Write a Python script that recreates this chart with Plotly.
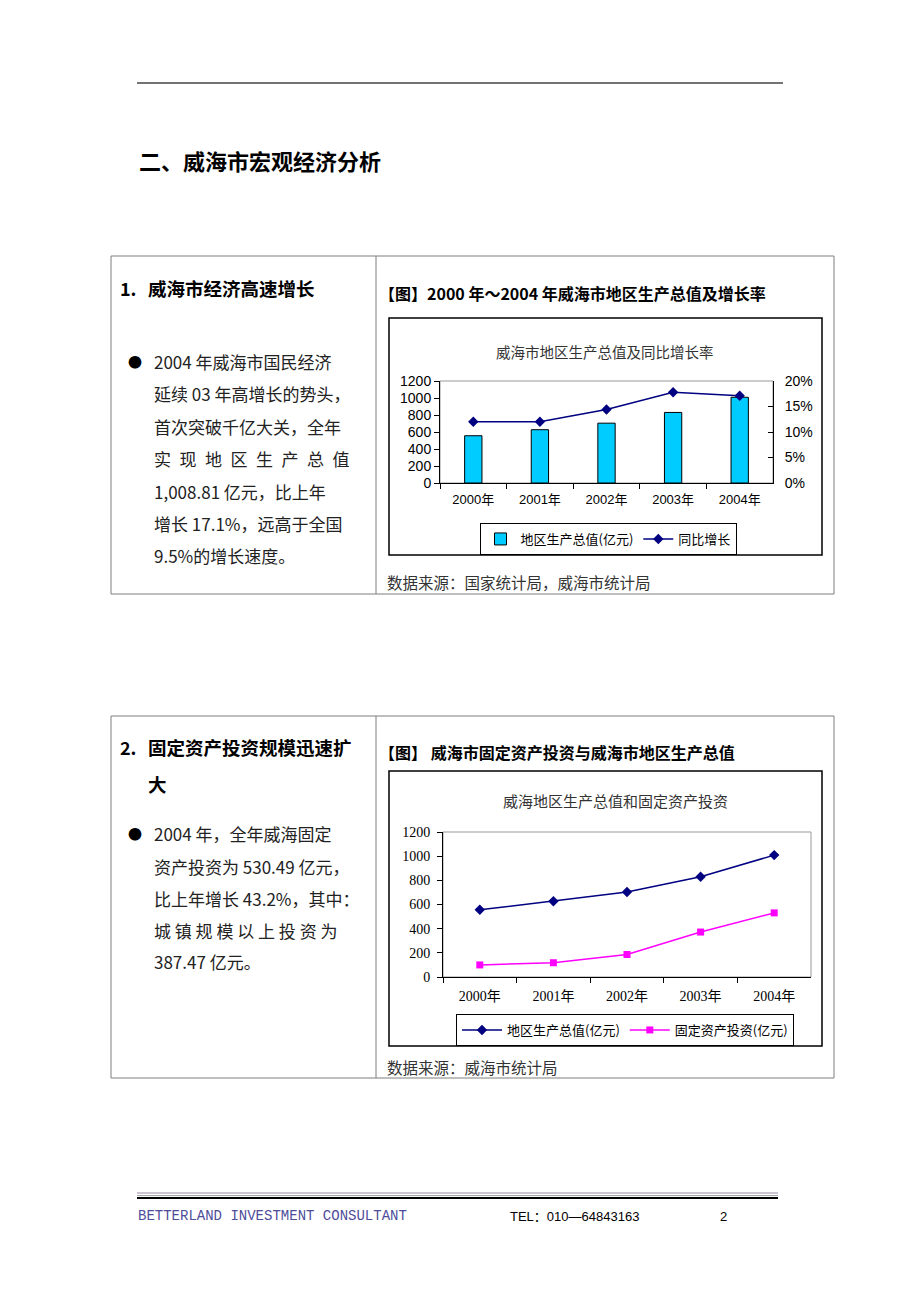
import plotly.graph_objects as go

W, H = 920, 1302

def X(px):
    return px / W

def Y(py):
    return 1 - py / H

# ---------------- data ----------------
years = ["2000年", "2001年", "2002年", "2003年", "2004年"]
gdp = [556, 627, 704, 830, 1008.81]             # 地区生产总值(亿元)
gdp_growth = [0.120, 0.120, 0.144, 0.178, 0.171]  # 同比增长
invest = [100, 118, 186, 372, 530.49]            # 固定资产投资(亿元)

left_ticks = [0, 200, 400, 600, 800, 1000, 1200]
right_ticks = [0, 0.05, 0.10, 0.15, 0.20]
right_tick_text = ["0%", "5%", "10%", "15%", "20%"]

CJK = "Noto Sans CJK SC"
SANS = "Liberation Sans, Arial, Noto Sans CJK SC"
SERIF = "Liberation Serif, Noto Sans CJK SC"

fig = go.Figure()

# Chart 1: bars + growth line
fig.add_trace(go.Bar(
    x=years, y=gdp, name="地区生产总值(亿元)",
    marker=dict(color="#00CCFF", line=dict(color="black", width=1)),
    width=0.26, xaxis="x", yaxis="y", legend="legend",
))
fig.add_trace(go.Scatter(
    x=years, y=gdp_growth, name="同比增长", mode="lines+markers",
    line=dict(color="#000080", width=1.5),
    marker=dict(symbol="diamond", size=8, color="#000080"),
    xaxis="x", yaxis="y2", legend="legend",
))

# Chart 2: two lines
fig.add_trace(go.Scatter(
    x=years, y=gdp, name="地区生产总值(亿元)", mode="lines+markers",
    line=dict(color="#000080", width=1.5),
    marker=dict(symbol="diamond", size=8, color="#000080"),
    xaxis="x2", yaxis="y3", legend="legend2",
))
fig.add_trace(go.Scatter(
    x=years, y=invest, name="固定资产投资(亿元)", mode="lines+markers",
    line=dict(color="#FF00FF", width=1.5),
    marker=dict(symbol="square", size=7, color="#FF00FF"),
    xaxis="x2", yaxis="y3", legend="legend2",
))

axis_common = dict(showgrid=False, zeroline=False, showline=True, linecolor="black",
                   linewidth=1, tickcolor="black", ticklen=5, automargin=False)

layout = dict(
    width=W, height=H,
    margin=dict(l=0, r=0, t=0, b=0),
    paper_bgcolor="white", plot_bgcolor="rgba(0,0,0,0)",
    showlegend=True,
    xaxis=dict(domain=[X(440), X(773)], anchor="y", type="category",
               range=[-0.5, 4.5], tickson="boundaries", ticks="outside",
               ticklabelstandoff=4,
               tickfont=dict(family=SANS, size=13, color="black"), **axis_common),
    yaxis=dict(domain=[Y(483), Y(381)], anchor="x", range=[0, 1200],
               tickvals=left_ticks, ticks="outside",
               tickfont=dict(family=SANS, size=14, color="black"), **axis_common),
    yaxis2=dict(overlaying="y", anchor="x", side="right", range=[0, 0.2],
                tickvals=right_ticks, ticktext=right_tick_text, ticks="inside",
                ticklabelstandoff=8,
                tickfont=dict(family=SANS, size=14, color="black"), **axis_common),
    xaxis2=dict(domain=[X(443), X(811)], anchor="y3", type="category",
                range=[-0.5, 4.5], tickson="boundaries", ticks="outside",
                ticklabelstandoff=6,
                tickfont=dict(family=SERIF, size=14, color="black"), **axis_common),
    yaxis3=dict(domain=[Y(977), Y(832)], anchor="x2", range=[0, 1200],
                tickvals=left_ticks, ticks="outside", ticklabelstandoff=4,
                tickfont=dict(family=SERIF, size=14, color="black"), **axis_common),
    legend=dict(x=X(608), y=Y(539), xanchor="center", yanchor="middle",
                orientation="h", bordercolor="black", borderwidth=1,
                bgcolor="white", itemwidth=30,
                font=dict(family=CJK, size=13, color="black")),
    legend2=dict(x=X(625), y=Y(1030), xanchor="center", yanchor="middle",
                 orientation="h", bordercolor="black", borderwidth=1,
                 bgcolor="white", itemwidth=40,
                 font=dict(family=CJK, size=13, color="black")),
)
fig.update_layout(**layout)

shapes = []

def line(x0, y0, x1, y1, color="black", width=1, dash="solid"):
    shapes.append(dict(type="line", xref="paper", yref="paper",
                       x0=X(x0), y0=Y(y0), x1=X(x1), y1=Y(y1),
                       line=dict(color=color, width=width, dash=dash)))

def rect(x0, y0, x1, y1, color="black", width=1, layer="above"):
    shapes.append(dict(type="rect", xref="paper", yref="paper",
                       x0=X(x0), y0=Y(y1), x1=X(x1), y1=Y(y0), layer=layer,
                       line=dict(color=color, width=width)))

# header rule
line(137, 83, 783, 83, color="#444444", width=1.6)

# tables
rect(111, 256, 834, 594, color="#7f7f7f", width=1)
line(376, 256, 376, 594, color="#7f7f7f", width=1)
rect(111, 716, 834, 1078, color="#7f7f7f", width=1)
line(376, 716, 376, 1078, color="#7f7f7f", width=1)

# chart frames
rect(389, 318, 822, 555, color="black", width=1.5)
rect(389, 771, 822, 1046, color="black", width=1.5)

# plot area outlines (gray)
shapes.append(dict(type="rect", xref="x domain", yref="y domain", x0=0, x1=1, y0=0, y1=1,
                   layer="below", line=dict(color="#999999", width=1)))
shapes.append(dict(type="rect", xref="x2 domain", yref="y3 domain", x0=0, x1=1, y0=0, y1=1,
                   layer="below", line=dict(color="#999999", width=1)))

# footer rules
line(137, 1193, 778, 1193, color="#9a8aa8", width=1)
line(137, 1195.6, 778, 1195.6, color="#a0a0a0", width=1)
line(137, 1198, 778, 1198, color="black", width=2)

fig.update_layout(shapes=shapes)

ann = []

def text(s, x, y, size=16, color="#222222", family=CJK, xanchor="left", bold=False):
    if bold:
        s = "<b>" + s + "</b>"
    ann.append(dict(text=s, x=X(x), y=Y(y), xref="paper", yref="paper",
                    xanchor=xanchor, yanchor="middle", showarrow=False,
                    font=dict(family=family, size=size, color=color)))

EN = "\u2002"

text("二、威海市宏观经济分析", 137, 160, size=22, color="black", bold=True)

# section 1
text("1.", 118, 288, size=18, color="black", bold=True)
text("威海市经济高速增长", 146, 288, size=18.5, color="black", bold=True)
text("●", 126, 361, size=14, color="black")
body1 = ["2004 年威海市国民经济", "延续 03 年高增长的势头，", "首次突破千亿大关，全年",
         EN.join("实现地区生产总值"), "1,008.81 亿元，比上年", "增长 17.1%，远高于全国",
         "9.5%的增长速度。"]
ys1 = [362, 393, 427, 458, 491, 523, 555]
for s, yy in zip(body1, ys1):
    text(s, 152, yy, size=17)

text("【图】2000 年～2004 年威海市地区生产总值及增长率", 377, 293, size=16, color="black", bold=True)
text("威海市地区生产总值及同比增长率", 605, 351, size=14.5, color="#333333", xanchor="center")
text("数据来源：国家统计局，威海市统计局", 385, 582, size=15.5, color="#333333")

# section 2
text("2.", 118, 747, size=18, color="black", bold=True)
text("固定资产投资规模迅速扩", 146, 747, size=18.5, color="black", bold=True)
text("大", 146, 784, size=18.5, color="black", bold=True)
text("●", 126, 833, size=14, color="black")
body2 = ["2004 年，全年威海固定", "资产投资为 530.49 亿元，", "比上年增长 43.2%，其中：",
         " ".join("城镇规模以上投资为"), "387.47 亿元。"]
ys2 = [833, 866, 898, 930, 962]
for s, yy in zip(body2, ys2):
    text(s, 152, yy, size=17)

text("【图】 威海市固定资产投资与威海市地区生产总值", 377, 752, size=16, color="black", bold=True)
text("威海地区生产总值和固定资产投资", 615, 800, size=15, color="#333333", xanchor="center")
text("数据来源：威海市统计局", 385, 1067, size=15.5, color="#333333")

# footer
text("BETTERLAND INVESTMENT CONSULTANT", 136, 1216, size=14, color="#4d4d9a",
     family="Liberation Mono, DejaVu Sans Mono")
text("TEL：010—64843163", 508, 1216, size=13, color="black", family="Liberation Sans, Noto Sans CJK SC")
text("2", 718, 1216, size=13, color="black", family="Liberation Sans")

fig.update_layout(annotations=ann)

fig.write_html(
    "out.html",
    config={"displayModeBar": False},
    post_script="document.body.style.margin='0';document.body.style.padding='0';"
                "document.body.style.overflow='hidden';"
                "document.documentElement.style.overflow='hidden';",
)
